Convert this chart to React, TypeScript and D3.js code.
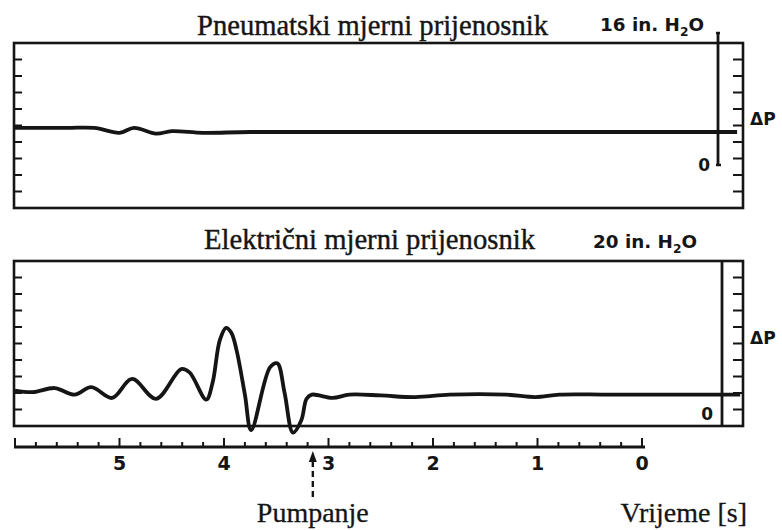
import * as React from "react";
import * as d3 from "d3";

// time in seconds (counting down to 0), dP in in. H2O
const topTime = [6.0, 5.5, 5.24, 5.0, 4.86, 4.65, 4.5, 4.2, 3.75, 2.0, -0.91];
const topDP = [4.5, 4.5, 4.5, 3.9, 4.5, 3.8, 4.1, 3.9, 4.0, 4.0, 4.0];

const botTime = [
  6.0, 5.83, 5.62, 5.43, 5.27, 5.07, 4.88, 4.65, 4.41, 4.33, 4.17, 4.11, 4.04,
  3.98, 3.93, 3.88, 3.8, 3.74, 3.56, 3.49, 3.42, 3.34, 3.26, 3.21, 3.16, 2.96,
  2.8, 2.5, 2.17, 1.84, 1.3, 1.02, 0.79, 0.3, -0.94,
];
const botDP = [
  4.3, 4.1, 4.6, 3.8, 4.7, 3.4, 5.7, 3.3, 6.9, 6.5, 3.2, 5.2, 10.4, 11.9, 11.3,
  9.2, 3.8, -0.5, 7.1, 7.6, 4.0, -0.8, 0.7, 3.3, 3.8, 3.4, 3.8, 3.7, 3.5, 3.8,
  3.8, 3.5, 3.8, 3.8, 3.8,
];

const timeLabels = [5, 4, 3, 2, 1, 0];
const pumpTime = 3.15;

const panels = [
  { title: "Pneumatski mjerni prijenosnik", full: "16", top: 43, bottom: 208, barX: 718, titleX: 197, titleW: 351, titleY: 35, unitX: 600, unitY: 31 },
  { title: "Električni mjerni prijenosnik", full: "20", top: 261, bottom: 426, barX: 722, titleX: 204, titleW: 331, titleY: 249, unitX: 593, unitY: 248 },
];

export default function App() {
  const ref = React.useRef<SVGSVGElement | null>(null);

  React.useEffect(() => {
    const svg = d3.select(ref.current);
    svg.selectAll("*").remove();
    const ink = "#151515";
    const serif = "'Liberation Serif', 'DejaVu Serif', serif";
    const sans = "'DejaVu Sans', 'Liberation Sans', sans-serif";

    const x = d3.scaleLinear().domain([6, 0]).range([15, 642]);
    const left = 14;
    const right = 743;

    const series = [
      { t: topTime, v: topDP },
      { t: botTime, v: botDP },
    ];

    panels.forEach((p, i) => {
      const full = +p.full;
      const zeroY = i === 0 ? 165 : p.bottom;
      const y = d3.scaleLinear().domain([0, full]).range([zeroY, zeroY - 8.25 * full]);
      const g = svg.append("g");

      // frame
      g.append("rect")
        .attr("x", left)
        .attr("y", p.top)
        .attr("width", right - left)
        .attr("height", p.bottom - p.top)
        .attr("fill", "none")
        .attr("stroke", ink)
        .attr("stroke-width", 2.6);

      // ruler ticks on both edges
      const r = d3.scaleLinear().domain([0, 10]).range([p.top, p.bottom]);
      const rt = d3.range(1, 10);
      g.selectAll(".lt")
        .data(rt)
        .enter()
        .append("line")
        .attr("x1", left)
        .attr("x2", left + 8)
        .attr("y1", (d) => r(d))
        .attr("y2", (d) => r(d))
        .attr("stroke", ink)
        .attr("stroke-width", 2);
      g.selectAll(".rt")
        .data(rt)
        .enter()
        .append("line")
        .attr("x1", right - 10)
        .attr("x2", right)
        .attr("y1", (d) => r(d))
        .attr("y2", (d) => r(d))
        .attr("stroke", ink)
        .attr("stroke-width", 2);

      // the calibration bar
      g.append("line")
        .attr("x1", p.barX)
        .attr("x2", p.barX)
        .attr("y1", i === 0 ? y(full) : p.top)
        .attr("y2", i === 0 ? y(0) : p.bottom)
        .attr("stroke", ink)
        .attr("stroke-width", 2.8);
      if (i === 0) {
        g.append("line")
          .attr("x1", p.barX - 2)
          .attr("x2", p.barX + 3)
          .attr("y1", y(0))
          .attr("y2", y(0))
          .attr("stroke", ink)
          .attr("stroke-width", 2.5);
        g.append("line")
          .attr("x1", p.barX - 2)
          .attr("x2", p.barX + 2)
          .attr("y1", y(full))
          .attr("y2", y(full))
          .attr("stroke", ink)
          .attr("stroke-width", 2.5);
      }

      // trace
      const s = series[i];
      const line = d3
        .line<number>()
        .x((_, k) => x(s.t[k]))
        .y((d) => y(d))
        .curve(d3.curveCatmullRom.alpha(0.5));
      g.append("path")
        .attr("d", line(s.v))
        .attr("fill", "none")
        .attr("stroke", ink)
        .attr("stroke-width", 3.8)
        .attr("stroke-linejoin", "round");

      // texts
      g.append("text")
        .attr("x", p.titleX)
        .attr("y", p.titleY)
        .attr("font-family", serif)
        .attr("font-size", 29)
        .attr("textLength", p.titleW)
        .attr("lengthAdjust", "spacingAndGlyphs")
        .attr("fill", ink)
        .attr("stroke", ink)
        .attr("stroke-width", 0.4)
        .text(p.title);

      const unit = g
        .append("text")
        .attr("x", p.unitX)
        .attr("y", p.unitY)
        .attr("font-family", sans)
        .attr("font-size", 18)
        .attr("font-weight", "bold")
        .attr("textLength", 104)
        .attr("lengthAdjust", "spacingAndGlyphs")
        .attr("fill", ink);
      unit.append("tspan").text(`${p.full} in. H`);
      unit.append("tspan").attr("dy", 5).attr("font-size", 12).text("2");
      unit.append("tspan").attr("dy", -5).text("O");

      g.append("text")
        .attr("x", 750)
        .attr("y", i === 0 ? 125 : 344)
        .attr("font-family", sans)
        .attr("font-size", 17)
        .attr("font-weight", "bold")
        .attr("fill", ink)
        .text("ΔP");

      g.append("text")
        .attr("x", i === 0 ? 710 : 713)
        .attr("y", i === 0 ? 171 : 420)
        .attr("text-anchor", "end")
        .attr("font-family", sans)
        .attr("font-size", 17)
        .attr("font-weight", "bold")
        .attr("fill", ink)
        .text("0");
    });

    // time axis
    const axisY = 447;
    const ax = svg.append("g");
    ax.append("line")
      .attr("x1", 14)
      .attr("x2", 645)
      .attr("y1", axisY)
      .attr("y2", axisY)
      .attr("stroke", ink)
      .attr("stroke-width", 2.8);
    const minor = d3.range(0, 31).map((k) => k / 5);
    ax.selectAll(".mt")
      .data(minor)
      .enter()
      .append("line")
      .attr("x1", (d) => x(d))
      .attr("x2", (d) => x(d))
      .attr("y1", axisY)
      .attr("y2", (d) => (Math.abs(d - Math.round(d)) < 1e-6 ? axisY - 9 : axisY - 5))
      .attr("stroke", ink)
      .attr("stroke-width", 2);
    ax.selectAll(".tl")
      .data(timeLabels)
      .enter()
      .append("text")
      .attr("x", (d) => x(d))
      .attr("y", 470)
      .attr("text-anchor", "middle")
      .attr("font-family", sans)
      .attr("font-size", 19)
      .attr("font-weight", "bold")
      .attr("fill", ink)
      .text((d) => String(d));

    // pumping marker
    const px = x(pumpTime);
    ax.append("path")
      .attr("d", `M${px},451 l-4,11 l8,0 z`)
      .attr("fill", ink);
    ax.append("line")
      .attr("x1", px)
      .attr("x2", px)
      .attr("y1", 461)
      .attr("y2", 498)
      .attr("stroke", ink)
      .attr("stroke-width", 2.4)
      .attr("stroke-dasharray", "6,4");
    ax.append("text")
      .attr("x", px)
      .attr("y", 522)
      .attr("text-anchor", "middle")
      .attr("font-family", serif)
      .attr("font-size", 28)
      .attr("fill", ink)
      .attr("stroke", ink)
      .attr("stroke-width", 0.3)
      .text("Pumpanje");
    ax.append("text")
      .attr("x", 747)
      .attr("y", 522)
      .attr("text-anchor", "end")
      .attr("font-family", serif)
      .attr("font-size", 28)
      .attr("fill", ink)
      .attr("stroke", ink)
      .attr("stroke-width", 0.3)
      .text("Vrijeme [s]");
  }, []);

  return (
    <svg
      ref={ref}
      width={782}
      height={530}
      style={{ position: "absolute", left: 0, top: 0, background: "#fff" }}
    />
  );
}
